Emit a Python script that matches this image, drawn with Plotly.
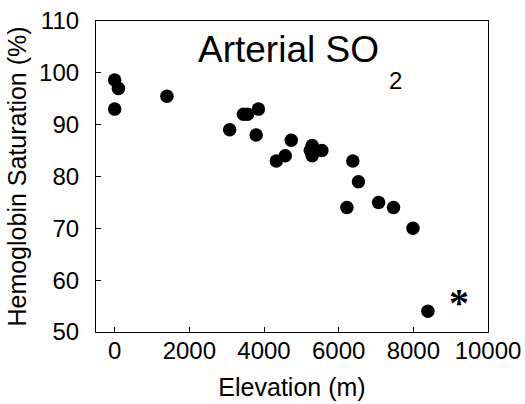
import plotly.graph_objects as go

elevation_m = [0, 100, 0, 1400, 3080, 3450, 3560, 3850, 3790, 4330, 4570, 4730,
               5290, 5240, 5290, 5550, 6380, 6530, 6220, 7070, 7470, 7990, 8390]
saturation_pct = [98.6, 97.0, 93.0, 95.5, 89.0, 92.0, 92.0, 93.0, 88.0, 83.0, 84.0, 87.0,
                  86.0, 85.0, 84.0, 85.0, 83.0, 79.0, 74.0, 75.0, 74.0, 70.0, 54.0]

x_ticks = [0, 2000, 4000, 6000, 8000, 10000]
x_tick_labels = ["0", "2000", "4000", "6000", "8000", "10000"]
y_ticks = [50, 60, 70, 80, 90, 100, 110]

FONT = "Liberation Sans, Arial, sans-serif"
W, H = 525, 404
ML, MR, MT, MB = 96, 37, 21, 72
PW, PH = W - ML - MR, H - MT - MB


def px_to_paper(px, py):
    return (px - ML) / PW, 1 - (py - MT) / PH


fig = go.Figure()
fig.add_trace(go.Scatter(
    x=elevation_m, y=saturation_pct, mode="markers",
    marker=dict(color="black", size=13.5, line=dict(width=0)),
    showlegend=False, cliponaxis=False, hoverinfo="skip",
))

tx, ty = px_to_paper(288.5, 50)
fig.add_annotation(x=tx, y=ty, xref="paper", yref="paper",
                   text="Arterial SO", showarrow=False,
                   font=dict(family=FONT, size=37, color="black"),
                   xanchor="center", yanchor="middle")
sx, sy = px_to_paper(395, 80)
fig.add_annotation(x=sx, y=sy, xref="paper", yref="paper",
                   text="2", showarrow=False,
                   font=dict(family=FONT, size=24, color="black"),
                   xanchor="center", yanchor="middle")
fig.add_annotation(x=9230, y=55.6, xref="x", yref="y",
                   text="<b>*</b>", showarrow=False,
                   font=dict(family="Liberation Serif, serif", size=40, color="black"),
                   xanchor="center", yanchor="middle")

axis_common = dict(
    showline=True, linecolor="black", linewidth=1.2, mirror=True,
    ticks="inside", ticklen=5, tickwidth=1, tickcolor="black",
    showgrid=False, zeroline=False, automargin=False,
    tickfont=dict(family=FONT, size=24, color="black"),
)

fig.update_xaxes(range=[-500, 10000], tickvals=x_ticks, ticktext=x_tick_labels,
                 ticklabelstandoff=-3,
                 title=dict(text="Elevation (m)", font=dict(family=FONT, size=25, color="black"), standoff=15),
                 **axis_common)
fig.update_yaxes(range=[50, 110], tickvals=y_ticks, ticklabelstandoff=11,
                 title=dict(text="Hemoglobin Saturation (%)", font=dict(family=FONT, size=25, color="black"), standoff=5),
                 **axis_common)

fig.update_layout(
    width=W, height=H,
    margin=dict(l=ML, r=MR, t=MT, b=MB),
    plot_bgcolor="white", paper_bgcolor="white",
)

fig.write_html("out.html", config={"displayModeBar": False},
               post_script="document.body.style.margin='0';")
